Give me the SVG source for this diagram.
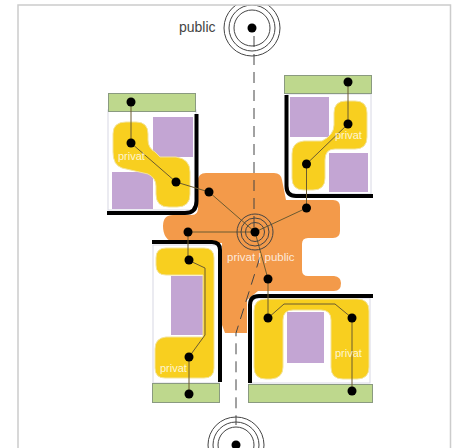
<svg xmlns="http://www.w3.org/2000/svg" width="462" height="448" viewBox="0 0 462 448">
<style>
.rm{fill:#c3a5d3}.gr{fill:#bed88d;stroke:#8a9a80;stroke-width:1}.ye{fill:#f8cf1f;stroke:#f3e39a;stroke-width:1}
.wa{fill:none;stroke:#000;stroke-width:4;stroke-linejoin:round}.bx{fill:#fff;stroke:#d8d8e4;stroke-width:1}
.ln{fill:none;stroke:#6b5a30;stroke-width:1}.d{fill:#000}.c{fill:none;stroke:#444;stroke-width:1}
.w{font-family:"Liberation Sans",Arial,sans-serif;font-size:11px;fill:#fff;fill-opacity:.8}
</style>
<rect width="462" height="448" fill="#fff"/>
<g id="central-area">
<path d="M206 173H274Q281 173 282 180L286 200H333Q340 200 340 207V231Q340 238 333 238H308Q302 238 302 244V270Q302 276 308 276H334Q341 277 341 283Q341 291 334 291H258L247 300V333H225L222 325V243H175Q163 240 163 226Q163 215 173 215H192Q198 215 198 208V181Q198 173 206 173Z" fill="#f39a4a"/>
</g>
<g id="room-nw">
<rect class="bx" x="108" y="110" width="88" height="100"/>
<rect class="gr" x="108.500" y="93.500" width="87" height="18"/>
<rect class="rm" x="153" y="117" width="40" height="40"/>
<rect class="rm" x="112" y="172" width="41" height="37"/>
<path class="ye" d="M113 134Q113 122 126 122H136Q148 122 148 134V140Q148 148 155 152L160 157H176Q190 159 190 172V194Q190 207 177 207H169Q156 207 156 194V186Q156 178 148 174L122 168Q113 165 113 152Z"/>
<path class="wa" d="M196.500 114V201Q196.500 213 185 213H107"/>
</g>
<g id="room-ne">
<rect class="bx" x="287" y="94" width="84" height="100"/>
<rect class="gr" x="284.500" y="75.500" width="87" height="18"/>
<rect class="rm" x="290" y="97" width="39" height="40"/>
<rect class="rm" x="329" y="153" width="39" height="39"/>
<path class="ye" d="M334 113Q334 101 346 101H355Q367 101 367 113V137Q367 149 355 149H335Q325 149 325 160V178Q325 190 313 190H304Q292 190 292 178V154Q292 142 304 141H322Q334 135 334 125Z"/>
<path class="wa" d="M286.500 95V186Q286.500 196 296 196H373"/>
</g>
<g id="room-sw">
<rect class="bx" x="153" y="245" width="66" height="138"/>
<rect class="gr" x="152.500" y="383.500" width="67" height="19"/>
<rect class="rm" x="171" y="276" width="32" height="59"/>
<path class="ye" d="M156 258Q156 248 166 248H204Q214 248 214 258V368Q214 378 204 378H165Q155 378 155 368V349Q155 338 166 337H203V275H166Q156 275 156 265Z"/>
<path class="wa" d="M152 242H212Q220 242 220 250V382"/>
</g>
<g id="room-se">
<rect class="bx" x="250" y="298" width="120" height="85"/>
<rect class="gr" x="248.500" y="384.500" width="124" height="18"/>
<path class="ye" d="M254 311Q254 299 266 299H357Q369 299 369 311V367Q369 379 357 379H343Q331 379 331 367V320Q331 310 321 310H293Q283 310 283 320V367Q283 378 271 379H266Q254 379 254 367Z"/>
<rect class="rm" x="287" y="312" width="37" height="51"/>
<path class="wa" d="M373 296H259Q250 296 250 305V383"/>
</g>
<g id="connectors">
<path class="c" stroke-dasharray="11 7" d="M254 36V232"/>
<path class="c" stroke-dasharray="11 7" d="M260 257L236 333V425"/>
<path class="ln" d="M131 102V143L176 182L209 192L255 232L306.500 208V164L348 124V82"/>
<path class="ln" d="M255 232H188V260L205 268V335L189 357V394"/>
<path class="ln" d="M255 232L268 279V318L284 304H335L352 318V391"/>
</g>
<g id="nodes">
<circle class="c" cx="255" cy="232" r="18"/><circle class="c" cx="255" cy="232" r="14"/><circle class="c" cx="255" cy="232" r="9.500"/>
<circle class="d" cx="131" cy="102" r="4.500"/><circle class="d" cx="131" cy="143" r="4.500"/><circle class="d" cx="176" cy="182" r="4.500"/>
<circle class="d" cx="348" cy="82" r="4.500"/><circle class="d" cx="348" cy="124" r="4.500"/><circle class="d" cx="306.500" cy="164" r="4.500"/>
<circle class="d" cx="189" cy="260" r="4.500"/><circle class="d" cx="189" cy="357" r="4.500"/><circle class="d" cx="189" cy="394" r="4.500"/>
<circle class="d" cx="268" cy="279" r="4.500"/><circle class="d" cx="268" cy="318" r="4.500"/><circle class="d" cx="352" cy="318" r="4.500"/><circle class="d" cx="352" cy="391" r="4.500"/>
<circle class="d" cx="209" cy="192" r="4.500"/><circle class="d" cx="306.500" cy="208" r="4.500"/><circle class="d" cx="188" cy="232" r="4.500"/><circle class="d" cx="255" cy="232" r="4.500"/>
</g>
<g id="labels">
<text class="w" x="118" y="160">privat</text>
<text class="w" x="335" y="139">privat</text>
<text class="w" x="160" y="372">privat</text>
<text class="w" x="335" y="357">privat</text>
<text class="w" x="227" y="261" style="font-size:11.500px">privat | public</text>
</g>
<g id="public-top">
<circle class="c" cx="252" cy="28" r="28"/><circle class="c" cx="252" cy="28" r="23"/><circle class="c" cx="252" cy="28" r="18"/>
<circle class="d" cx="252" cy="28" r="4.500"/>
<rect x="220" y="0" width="64" height="5" fill="#fff"/>
<text x="179" y="32" font-family="Liberation Sans,Arial,sans-serif" font-size="14" fill="#444">public</text>
</g>
<g id="public-bottom">
<circle class="c" cx="236" cy="445" r="28"/><circle class="c" cx="236" cy="445" r="23"/><circle class="c" cx="236" cy="445" r="18"/>
<circle class="d" cx="236" cy="445" r="4.500"/>
</g>
<path d="M18 448V5H450.500V448" fill="none" stroke="#cccccc" stroke-width="1.500"/>
</svg>
